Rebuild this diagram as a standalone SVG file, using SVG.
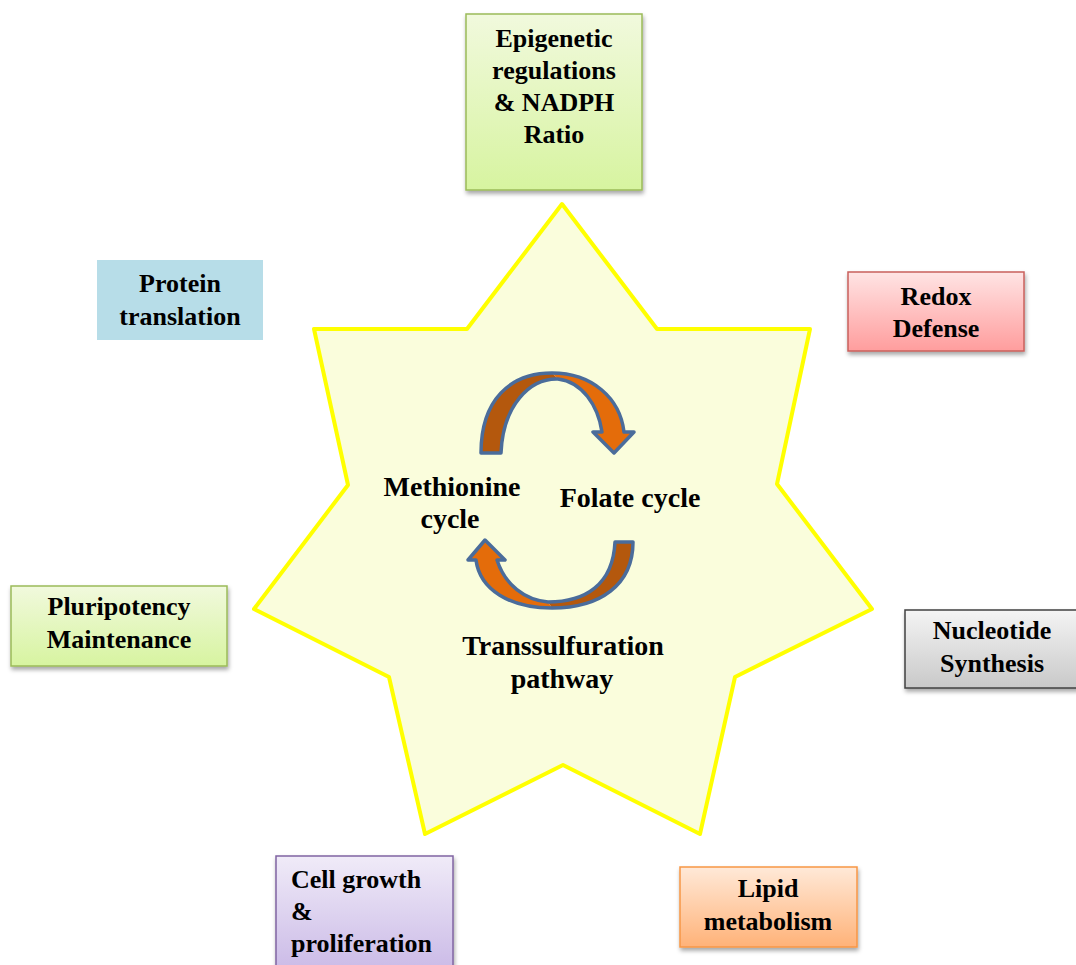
<svg xmlns="http://www.w3.org/2000/svg" width="1076" height="965" viewBox="0 0 1076 965">
<defs>
<linearGradient id="gGreen" x1="0" y1="0" x2="0" y2="1"><stop offset="0" stop-color="#F1F9DD"/><stop offset="1" stop-color="#D7F4A0"/></linearGradient>
<linearGradient id="gRed" x1="0" y1="0" x2="0" y2="1"><stop offset="0" stop-color="#FFE4E4"/><stop offset="1" stop-color="#FF9D9D"/></linearGradient>
<linearGradient id="gGrey" x1="0" y1="0" x2="0" y2="1"><stop offset="0" stop-color="#F4F4F4"/><stop offset="1" stop-color="#C9C9C9"/></linearGradient>
<linearGradient id="gPurple" x1="0" y1="0" x2="0" y2="1"><stop offset="0" stop-color="#F0EBF8"/><stop offset="1" stop-color="#C9B8E6"/></linearGradient>
<linearGradient id="gOrange" x1="0" y1="0" x2="0" y2="1"><stop offset="0" stop-color="#FFE9D8"/><stop offset="1" stop-color="#FFB278"/></linearGradient>
<filter id="shadow" x="-10%" y="-10%" width="125%" height="130%"><feDropShadow dx="1" dy="3" stdDeviation="2" flood-color="#000" flood-opacity="0.35"/></filter>
</defs>
<style>
text{font-family:"Liberation Serif","Times New Roman",serif;font-weight:bold;font-size:26px;fill:#000;}
.c{text-anchor:middle;}
.big{font-size:28px;}
.box{stroke-width:1.5;filter:url(#shadow);}
.dark{fill:#B4580D;}
.light{fill:#E46C0A;}
.outline{fill:none;stroke:#4A6C9B;stroke-width:3.5;stroke-linejoin:round;}
</style>
<rect width="1076" height="965" fill="#FFFFFF"/>

<g id="star">
<polygon points="562,204 657,329 810,329 777,484 872,609 735,677 700,834 563,765 425,834 389,677 254,609 348,485 314,329 467,329" fill="#FAFDDC" stroke="#FFFF00" stroke-width="4" stroke-linejoin="round"/>
</g>

<g id="connectors">
<g id="arrow-top">
<path class="light" d="M552,373 C592,373 620,398 624,432 L634,432 L614,453 L593,432 L602,432 C598,405 582,382 558,379 Z"/>
<path class="dark" d="M481,453 C481,400 510,373 552,373 L558,379 C530,378 503,405 501,453 Z"/>
<path class="outline" d="M481,453 C481,400 510,373 552,373 C592,373 620,398 624,432 L634,432 L614,453 L593,432 L602,432 C598,405 582,382 558,379 C530,378 503,405 501,453 Z"/>
</g>
<g id="arrow-bottom">
<path class="light" d="M552,608 C510,608 480,590 476,560 L468,560 L485,540 L505,560 L497,560 C505,585 525,600 548,602 Z"/>
<path class="dark" d="M633,542 C633,585 600,608 552,608 L548,602 C585,602 613,585 615,542 Z"/>
<path class="outline" d="M633,542 C633,585 600,608 552,608 C510,608 480,590 476,560 L468,560 L485,540 L505,560 L497,560 C505,585 525,600 548,602 C585,602 613,585 615,542 Z"/>
</g>
</g>

<g id="center-labels">
<text class="c big" x="452" y="496">Methionine</text>
<text class="c big" x="450" y="528">cycle</text>
<text class="c big" x="630" y="507">Folate cycle</text>
<text class="c big" x="563" y="655">Transsulfuration</text>
<text class="c big" x="562" y="688">pathway</text>
</g>

<g id="node-epigenetic">
<rect class="box" x="466" y="14" width="176" height="176" fill="url(#gGreen)" stroke="#9BBB59"/>
<text class="c" x="554" y="47">Epigenetic</text>
<text class="c" x="554" y="79">regulations</text>
<text class="c" x="554" y="111">&amp; NADPH</text>
<text class="c" x="554" y="143">Ratio</text>
</g>

<g id="node-protein">
<rect x="97" y="260" width="166" height="80" fill="#B7DDE8"/>
<text class="c" x="180" y="292">Protein</text>
<text class="c" x="180" y="325">translation</text>
</g>

<g id="node-redox">
<rect class="box" x="848" y="272" width="176" height="79" fill="url(#gRed)" stroke="#C9605C"/>
<text class="c" x="936" y="305">Redox</text>
<text class="c" x="936" y="337">Defense</text>
</g>

<g id="node-nucleotide">
<rect class="box" x="905" y="610" width="180" height="78" fill="url(#gGrey)" stroke="#404040"/>
<text class="c" x="992" y="639">Nucleotide</text>
<text class="c" x="992" y="672">Synthesis</text>
</g>

<g id="node-lipid">
<rect class="box" x="680" y="867" width="177" height="80" fill="url(#gOrange)" stroke="#F79646"/>
<text class="c" x="768" y="897">Lipid</text>
<text class="c" x="768" y="930">metabolism</text>
</g>

<g id="node-cell">
<rect class="box" x="276" y="856" width="177" height="120" fill="url(#gPurple)" stroke="#8064A2"/>
<text x="291" y="888">Cell growth</text>
<text x="291" y="920">&amp;</text>
<text x="291" y="952">proliferation</text>
</g>

<g id="node-pluripotency">
<rect class="box" x="11" y="586" width="216" height="80" fill="url(#gGreen)" stroke="#9BBB59"/>
<text class="c" x="119" y="615">Pluripotency</text>
<text class="c" x="119" y="648">Maintenance</text>
</g>
</svg>
